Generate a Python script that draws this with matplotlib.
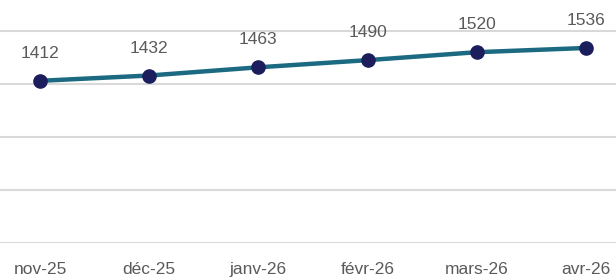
import matplotlib
matplotlib.use("Agg")
import matplotlib.pyplot as plt
import numpy as np

# -- données --
months = ["nov-25", "déc-25", "janv-26", "févr-26", "mars-26", "avr-26"]
values = [1412, 1432, 1463, 1490, 1520, 1536]
grid_ticks = [800, 1000, 1200, 1400, 1600]

plt.rcParams['font.family'] = ['Liberation Sans', 'DejaVu Sans']

fig = plt.figure(figsize=(6.16, 2.77), dpi=100)
# axe coupé comme dans la capture : y=800 en bas, haut hors cadre
ax = fig.add_axes([0, 34 / 277, 1, 243 / 277])

x = np.arange(len(months))
ax.plot(x, values, color="#1b6a82", linewidth=3.2, marker='o',
        markersize=9.5, markerfacecolor="#1b1d5c", markeredgecolor="#1b1d5c", zorder=3)

for xi, val in zip(x, values):
    ax.annotate(f"{val}", (xi, val), textcoords="offset points", xytext=(0, 16.5),
                ha='center', va='baseline', fontsize=12.5, color="#5a5a5a")

ax.set_xlim(-40 / 109.2, (616 - 40) / 109.2)
ax.set_ylim(800, 800 + 243 / 0.265)
ax.set_yticks(grid_ticks)
ax.yaxis.grid(True, color="#d9d9d9", linewidth=1.5)
ax.set_axisbelow(True)
ax.tick_params(axis='y', left=False, labelleft=False)
ax.tick_params(axis='x', length=0, pad=22, labelsize=12.5, labelcolor="#5a5a5a")
ax.set_xticks(x)
ax.set_xticklabels(months, va='baseline')
for s in ax.spines.values():
    s.set_visible(False)

fig.savefig("out.png", dpi=100)
